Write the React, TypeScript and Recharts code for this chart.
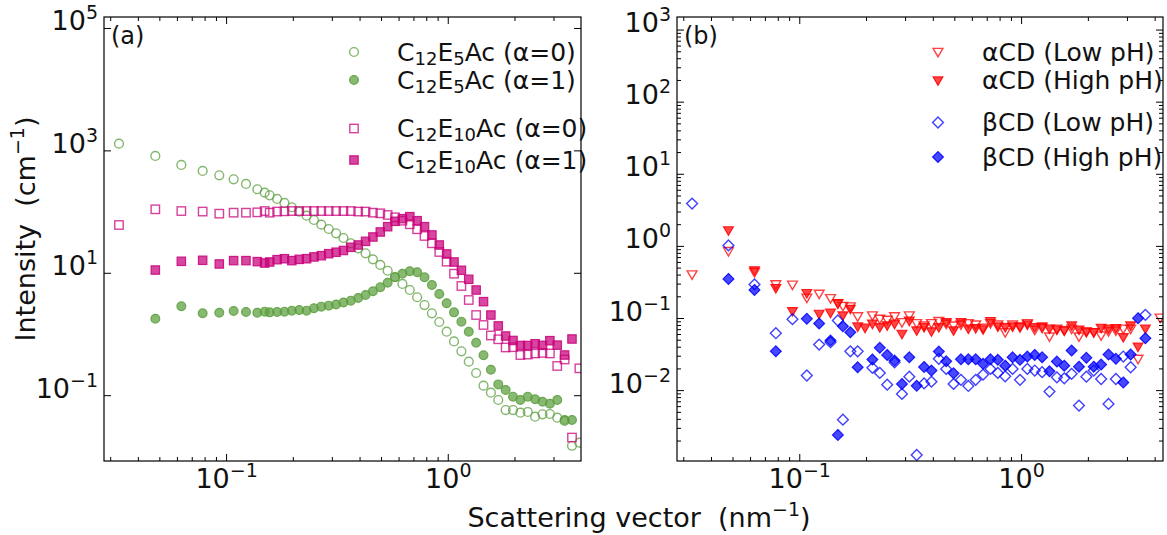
import React from 'react';
import { ScatterChart, Scatter, XAxis, YAxis } from 'recharts';

// ---------- data ----------
// scattering vector grid (nm^-1): 9 low-q points followed by 44 high-q points
const qGrid: number[] = [
  0.0327, 0.0477, 0.0625, 0.078, 0.0927, 0.1076, 0.1223, 0.1376, 0.1485,
  0.1565, 0.169, 0.1824, 0.1969, 0.2126, 0.2295, 0.2478, 0.2675, 0.2888, 0.3118,
  0.3366, 0.3634, 0.3923, 0.4235, 0.4572, 0.4936, 0.5329, 0.5753, 0.6211, 0.6705,
  0.7239, 0.7815, 0.8437, 0.9109, 0.9834, 1.0617, 1.1462, 1.2374, 1.3359, 1.4422,
  1.557, 1.6809, 1.8147, 1.9591, 2.1151, 2.2834, 2.4652, 2.6614, 2.8732, 3.1019,
  3.3488, 3.6153, 3.903, 4.2137,
];

// Panel (a)
const c12e5Alpha0: (number | null)[] = [
  1312, 826, 589, 470, 399, 343, 288, 236, 208,
  188, 164, 141, 120, 101.5, 87.3, 74.3, 62.3, 52.9, 45.0,
  37.7, 30.9, 25.6, 21.2, 16.9, 13.7, 11.0, 8.7, 6.69, 5.33,
  4.06, 3.03, 2.22, 1.6, 1.11, 0.769, 0.531, 0.36, 0.235, 0.146,
  0.112, 0.0851, 0.0583, 0.0583, 0.0527, 0.0542, 0.0454, 0.0497, 0.0502, 0.0437,
  0.0386, 0.0152, 0.0171, null,
];
const c12e5Alpha1: (number | null)[] = [
  null, 1.81, 2.89, 2.22, 2.27, 2.42, 2.33, 2.27, 2.36,
  2.3, 2.33, 2.36, 2.45, 2.51, 2.45, 2.68, 2.85, 2.96, 3.09,
  3.33, 3.57, 3.95, 4.42, 5.08, 5.9, 7.02, 8.6, 9.85, 10.8,
  10.4, 8.6, 6.44, 4.59, 3.24, 2.3, 1.62, 1.11, 0.734, 0.457,
  0.266, 0.153, 0.124, 0.0964, 0.0851, 0.0964, 0.0873, 0.0798, 0.074, 0.0851,
  0.0401, 0.0401, null, null,
];
const c12e10Alpha0: (number | null)[] = [
  61.5, 111, 104, 102, 94.2, 97.8, 97.8, 99, 104,
  97.8, 102, 103, 104, 104, 104, 104, 104, 104, 104,
  104, 104, 102, 102, 97.8, 95.5, 89.7, 82.2, 72.3, 63.2,
  52.4, 40.7, 30.9, 22.3, 15.5, 9.85, 6.2, 3.66, 2.08, 1.43,
  0.964, 0.835, 0.614, 0.62, 0.462, 0.47, 0.49, 0.5, 0.49, 0.306,
  0.391, 0.0207, 0.28, null,
];
const c12e10Alpha1: (number | null)[] = [
  null, 11.3, 15.7, 16.3, 14.2, 16.1, 16.1, 15.5, 14.7,
  15.3, 16.7, 17.3, 16.1, 16.9, 17.3, 18.5, 19.4, 20.9, 22.1,
  23.6, 26.6, 29.0, 33.3, 39.2, 47.3, 57.7, 70.7, 78.0, 84.1,
  72.3, 57.7, 42.3, 29.0, 20.7, 15.3, 11.2, 7.98, 5.33, 3.44,
  2.08, 1.38, 0.945, 0.798, 0.661, 0.661, 0.705, 0.665, 0.792, 0.67,
  0.462, 0.844, null, null,
];

// Panel (b)
const aCDLow: (number | null)[] = [
  0.408, 0.86, 0.44, 0.297, 0.294, 0.194, 0.22, 0.191, 0.162,
  0.149, 0.147, 0.107, null, 0.11, 0.099, 0.0959, 0.107, 0.0888, 0.11,
  0.086, 0.0799, 0.086, 0.092, 0.0844, 0.0799, 0.0825, 0.086, 0.0825, 0.0742,
  0.086, 0.0825, 0.0646, 0.0825, 0.0756, 0.086, 0.0698, 0.0742, 0.0562, 0.0721,
  0.0682, 0.0721, 0.0562, 0.0667, 0.0646, 0.058, 0.0667, 0.0682, 0.0721, 0.0721,
  0.0276, null, null, 0.1024,
];
const aCDHigh: (number | null)[] = [
  null, 1.67, 0.464, 0.264, 0.126, 0.225, 0.116, 0.12, 0.163,
  0.11, 0.136, 0.0774, 0.0743, 0.0844, 0.0757, 0.08, 0.0844, 0.0613, 0.093,
  0.0682, 0.0756, 0.0661, 0.0756, 0.0888, 0.0682, 0.0888, 0.0721, 0.0735, 0.0705,
  0.092, 0.0774, 0.0756, 0.0774, 0.0774, 0.0825, 0.0756, 0.0774, 0.0721, 0.0698,
  0.0682, 0.0799, 0.0698, 0.0646, 0.0646, 0.0742, 0.0721, 0.0735, 0.055, 0.0799,
  0.0408, 0.0721, null, null,
];
const bCDLow: (number | null)[] = [
  3.92, 1.03, 0.297, 0.0625, 0.0978, 0.0162, 0.0435, 0.0469, 0.0938,
  0.00396, 0.0351, 0.0351, null, 0.0207, 0.0176, 0.0121, 0.0247, 0.009, 0.0156,
  0.00128, 0.0126, 0.0133, 0.0276, 0.02, 0.0124, 0.0141, 0.0116, 0.0141, 0.0167,
  0.02, 0.0176, 0.0158, 0.02, 0.0141, 0.02, 0.019, 0.018, 0.00969, 0.0153,
  0.0148, 0.0171, 0.0062, 0.0156, 0.019, 0.0145, 0.00654, 0.0145, 0.0297, 0.0211,
  null, 0.1125, null, null,
];
const bCDHigh: (number | null)[] = [
  null, 0.354, 0.249, 0.0351, null, 0.099, 0.0853, 0.0495, 0.00243,
  0.0782, 0.0645, 0.0211, null, 0.027, 0.0392, 0.0313, 0.0261, 0.0124, 0.029,
  0.0117, 0.0213, 0.019, 0.0348, 0.0255, 0.0174, 0.0272, 0.0272, 0.0272, 0.0235,
  0.0272, 0.0267, 0.0222, 0.029, 0.0267, 0.0297, 0.0313, 0.029, 0.0185, 0.0253,
  0.0222, 0.036, 0.0215, 0.0285, 0.0215, 0.023, 0.0316, 0.0276, 0.013, 0.0316,
  0.101, 0.0532, null, null,
];

// axis ticks (decade labels + minor marks)
const xTicksA = [0.03, 0.04, 0.05, 0.06, 0.07, 0.08, 0.09, 0.1, 0.2, 0.3, 0.4, 0.5, 0.6, 0.7, 0.8, 0.9, 1, 2, 3];
const xTicksB = [...xTicksA, 4];
const yTicksA = [0.1, 10, 1000, 100000];
const yMajorB = [0.01, 0.1, 1, 10, 100, 1000];
const yTicksB = (() => {
  const out: number[] = [];
  [0.001, 0.01, 0.1, 1, 10, 100].forEach((d) => {
    for (let m = 1; m <= 9; m++) {
      const v = +(d * m).toPrecision(3);
      if (v >= 0.0011 && v <= 1500) out.push(v);
    }
  });
  out.push(1000);
  return out;
})();

const legendA = ['C12E5Ac (α=0)', 'C12E5Ac (α=1)', 'C12E10Ac (α=0)', 'C12E10Ac (α=1)'];
const legendB = ['αCD (Low pH)', 'αCD (High pH)', 'βCD (Low pH)', 'βCD (High pH)'];

// ---------- helpers ----------
const toPoints = (ys: (number | null)[]) =>
  ys.map((y, i) => (y == null ? null : { x: qGrid[i], y })).filter((p) => p != null) as { x: number; y: number }[];

const FONT = '"DejaVu Sans", Verdana, sans-serif';
const GREEN = '#5a9e3c';
const PINK = '#c8007a';
const RED = '#ff0000';
const BLUE = '#0000ff';

type Kind = 'circle' | 'square' | 'tri' | 'diamond';

function markerEl(kind: Kind, filled: boolean, color: string, cx: number, cy: number, key?: any) {
  const common: any = filled
    ? { fill: color, fillOpacity: 0.72, stroke: color, strokeOpacity: 0.85, strokeWidth: 1.2 }
    : { fill: 'none', stroke: color, strokeOpacity: 0.75, strokeWidth: 1.4 };
  if (kind === 'circle') return <circle key={key} cx={cx} cy={cy} r={4.4} {...common} />;
  if (kind === 'square') return <rect key={key} x={cx - 4.2} y={cy - 4.2} width={8.4} height={8.4} {...common} />;
  if (kind === 'tri')
    return (
      <polygon
        key={key}
        points={`${cx - 4.9},${cy - 3.6} ${cx + 4.9},${cy - 3.6} ${cx},${cy + 4.9}`}
        {...common}
        strokeLinejoin="miter"
      />
    );
  return (
    <polygon
      key={key}
      points={`${cx},${cy - 5.4} ${cx + 5.4},${cy} ${cx},${cy + 5.4} ${cx - 5.4},${cy}`}
      {...common}
    />
  );
}

const shapeOf = (kind: Kind, filled: boolean, color: string) => (props: any) => {
  const { cx, cy } = props;
  if (cx == null || cy == null || !isFinite(cx) || !isFinite(cy)) return <g />;
  return markerEl(kind, filled, color, cx, cy);
};

type Frame = { L: number; R: number; T: number; B: number };
const isDecade = (v: number) => Math.abs(Math.log10(v) - Math.round(Math.log10(v))) < 1e-6;
const expStr = (v: number) => {
  const n = Math.round(Math.log10(v));
  return n < 0 ? '\u2212' + Math.abs(n) : String(n);
};

const makeXTick = (f: Frame) => (props: any) => {
  const { x, payload } = props;
  const v = payload.value;
  const major = isDecade(v);
  const len = major ? 7 : 4;
  return (
    <g>
      <line x1={x} x2={x} y1={f.B} y2={f.B - len} stroke="#000" strokeWidth={1} />
      <line x1={x} x2={x} y1={f.T} y2={f.T + len} stroke="#000" strokeWidth={1} />
      {major && (
        <text x={x} y={f.B + 27} textAnchor="middle" fontFamily={FONT} fontSize={27} fill="#111">
          10<tspan dy={-11} fontSize={19}>{expStr(v)}</tspan>
        </text>
      )}
    </g>
  );
};

const makeYTick = (f: Frame, labels: number[]) => (props: any) => {
  const { y, payload } = props;
  const v = payload.value;
  const major = isDecade(v);
  const len = major ? 7 : 4;
  const showLabel = labels.some((l) => Math.abs(l - v) / l < 1e-6);
  return (
    <g>
      <line x1={f.L} x2={f.L + len} y1={y} y2={y} stroke="#000" strokeWidth={1} />
      <line x1={f.R} x2={f.R - len} y1={y} y2={y} stroke="#000" strokeWidth={1} />
      {showLabel && (
        <text x={f.L - 6} y={y + 2} textAnchor="end" fontFamily={FONT} fontSize={27} fill="#111">
          10<tspan dy={-11} fontSize={19}>{expStr(v)}</tspan>
        </text>
      )}
    </g>
  );
};

const frameA: Frame = { L: 104, R: 581, T: 17, B: 461 };
const frameB: Frame = { L: 77, R: 563, T: 17, B: 461 };
const B_OFFSET = 600;

function SubLabel({ text, x, y }: { text: string; x: number; y: number }) {
  // render digits after C / E as subscripts
  const m = text.match(/^C(\d+)E(\d+)(.*)$/);
  if (!m) {
    return (
      <text x={x} y={y} fontFamily={FONT} fontSize={25} fill="#111" style={{ whiteSpace: 'pre' }}>
        {text}
      </text>
    );
  }
  return (
    <text x={x} y={y} fontFamily={FONT} fontSize={25} fill="#111" style={{ whiteSpace: 'pre' }}>
      C<tspan dy={4} fontSize={18}>{m[1]}</tspan>
      <tspan dy={-4}>E</tspan>
      <tspan dy={4} fontSize={18}>{m[2]}</tspan>
      <tspan dy={-4}>{m[3]}</tspan>
    </text>
  );
}

const seriesA = [
  { name: legendA[0], ys: c12e5Alpha0, kind: 'circle' as Kind, filled: false, color: GREEN },
  { name: legendA[1], ys: c12e5Alpha1, kind: 'circle' as Kind, filled: true, color: GREEN },
  { name: legendA[2], ys: c12e10Alpha0, kind: 'square' as Kind, filled: false, color: PINK },
  { name: legendA[3], ys: c12e10Alpha1, kind: 'square' as Kind, filled: true, color: PINK },
];
const seriesB = [
  { name: legendB[0], ys: aCDLow, kind: 'tri' as Kind, filled: false, color: RED },
  { name: legendB[1], ys: aCDHigh, kind: 'tri' as Kind, filled: true, color: RED },
  { name: legendB[2], ys: bCDLow, kind: 'diamond' as Kind, filled: false, color: BLUE },
  { name: legendB[3], ys: bCDHigh, kind: 'diamond' as Kind, filled: true, color: BLUE },
];

const legendRowsA = [52, 80, 128.5, 160];
const legendRowsB = [52, 80.5, 122.5, 157];

export default function App() {
  return (
    <div style={{ position: 'absolute', left: 0, top: 0, width: 1167, height: 535, background: '#fff' }}>
      <div style={{ position: 'absolute', left: 0, top: 0 }}>
        <ScatterChart width={600} height={535} margin={{ top: 17, right: 19, bottom: 14, left: 14 }}>
          <XAxis
            type="number"
            dataKey="x"
            scale="log"
            domain={[0.02799, 3.97]}
            allowDataOverflow
            ticks={xTicksA}
            interval={0}
            tick={makeXTick(frameA)}
            tickLine={false}
            axisLine={false}
            height={60}
          />
          <YAxis
            type="number"
            dataKey="y"
            scale="log"
            domain={[0.00857, 154000]}
            allowDataOverflow
            ticks={yTicksA}
            interval={0}
            tick={makeYTick(frameA, yTicksA)}
            tickLine={false}
            axisLine={false}
            width={90}
          />
          {seriesA.map((s) => (
            <Scatter
              key={s.name}
              name={s.name}
              data={toPoints(s.ys)}
              shape={shapeOf(s.kind, s.filled, s.color)}
              isAnimationActive={false}
            />
          ))}
        </ScatterChart>
      </div>
      <div style={{ position: 'absolute', left: B_OFFSET, top: 0 }}>
        <ScatterChart width={567} height={535} margin={{ top: 17, right: 4, bottom: 14, left: 17 }}>
          <XAxis
            type="number"
            dataKey="x"
            scale="log"
            domain={[0.02796, 4.34]}
            allowDataOverflow
            ticks={xTicksB}
            interval={0}
            tick={makeXTick(frameB)}
            tickLine={false}
            axisLine={false}
            height={60}
          />
          <YAxis
            type="number"
            dataKey="y"
            scale="log"
            domain={[0.001057, 1517]}
            allowDataOverflow
            ticks={yTicksB}
            interval={0}
            tick={makeYTick(frameB, yMajorB)}
            tickLine={false}
            axisLine={false}
            width={60}
          />
          {seriesB.map((s) => (
            <Scatter
              key={s.name}
              name={s.name}
              data={toPoints(s.ys)}
              shape={shapeOf(s.kind, s.filled, s.color)}
              isAnimationActive={false}
            />
          ))}
        </ScatterChart>
      </div>
      <svg
        width={1167}
        height={535}
        style={{ position: 'absolute', left: 0, top: 0, pointerEvents: 'none', overflow: 'visible' }}
      >
        {/* frames */}
        <rect x={frameA.L} y={frameA.T} width={frameA.R - frameA.L} height={frameA.B - frameA.T} fill="none" stroke="#000" strokeWidth={1.2} />
        <rect
          x={frameB.L + B_OFFSET}
          y={frameB.T}
          width={frameB.R - frameB.L}
          height={frameB.B - frameB.T}
          fill="none"
          stroke="#000"
          strokeWidth={1.2}
        />
        {/* panel labels */}
        <text x={111} y={44} fontFamily={FONT} fontSize={24} fill="#111">(a)</text>
        <text x={684} y={44} fontFamily={FONT} fontSize={24} fill="#111">(b)</text>
        {/* legends */}
        {seriesA.map((s, i) => (
          <g key={'la' + i}>
            {markerEl(s.kind, s.filled, s.color, 354, legendRowsA[i])}
            <SubLabel text={s.name} x={397} y={legendRowsA[i] + 8.5} />
          </g>
        ))}
        {seriesB.map((s, i) => (
          <g key={'lb' + i}>
            {markerEl(s.kind, s.filled, s.color, 938, legendRowsB[i])}
            <SubLabel text={s.name} x={982} y={legendRowsB[i] + 8.5} />
          </g>
        ))}
        {/* axis titles */}
        <text
          transform="translate(35,229) rotate(-90)"
          textAnchor="middle"
          fontFamily={FONT}
          fontSize={27}
          fill="#111"
          style={{ whiteSpace: 'pre' }}
        >
          {'Intensity  (cm'}
          <tspan dy={-11} fontSize={19}>{'\u22121'}</tspan>
          <tspan dy={11}>)</tspan>
        </text>
        <text x={639} y={527} textAnchor="middle" fontFamily={FONT} fontSize={27} fill="#111" style={{ whiteSpace: 'pre' }}>
          {'Scattering vector  (nm'}
          <tspan dy={-11} fontSize={19}>{'\u22121'}</tspan>
          <tspan dy={11}>)</tspan>
        </text>
      </svg>
    </div>
  );
}
